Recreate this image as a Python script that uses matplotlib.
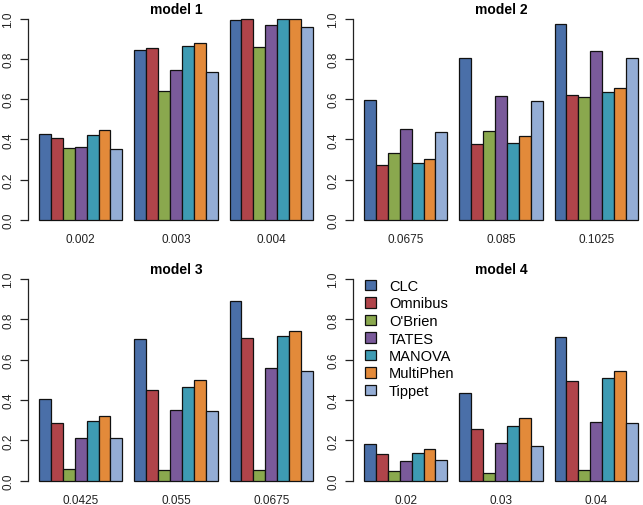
import matplotlib
matplotlib.use("Agg")
import matplotlib.pyplot as plt
from matplotlib.patches import Patch
import numpy as np

plt.rcParams['font.family'] = ['Liberation Sans', 'DejaVu Sans']

methods = ["CLC", "Omnibus", "O'Brien", "TATES", "MANOVA", "MultiPhen", "Tippet"]
colors = ["#4A6FA8", "#B0444A", "#8AA84E", "#7A5A9A", "#3E9BB3", "#E38A3A", "#94ADD5"]

titles = ["model 1", "model 2", "model 3", "model 4"]

m1_labels = ["0.002", "0.003", "0.004"]
m1_values = [
    [0.428, 0.408, 0.358, 0.362, 0.423, 0.449, 0.352],
    [0.846, 0.856, 0.640, 0.746, 0.866, 0.877, 0.733],
    [0.993, 1.000, 0.857, 0.970, 1.000, 1.000, 0.960],
]
m2_labels = ["0.0675", "0.085", "0.1025"]
m2_values = [
    [0.595, 0.275, 0.332, 0.451, 0.282, 0.305, 0.438],
    [0.803, 0.378, 0.444, 0.617, 0.383, 0.418, 0.589],
    [0.972, 0.622, 0.610, 0.839, 0.637, 0.657, 0.803],
]
m3_labels = ["0.0425", "0.055", "0.0675"]
m3_values = [
    [0.407, 0.284, 0.056, 0.213, 0.298, 0.319, 0.213],
    [0.704, 0.450, 0.051, 0.352, 0.466, 0.498, 0.347],
    [0.893, 0.707, 0.053, 0.560, 0.719, 0.742, 0.542],
]
m4_labels = ["0.02", "0.03", "0.04"]
m4_values = [
    [0.182, 0.131, 0.050, 0.096, 0.137, 0.159, 0.102],
    [0.435, 0.258, 0.040, 0.185, 0.271, 0.309, 0.174],
    [0.714, 0.493, 0.053, 0.289, 0.507, 0.545, 0.288],
]

W, H = 643, 506
fig = plt.figure(figsize=(W / 100, H / 100), dpi=100)

scale = 274 / 23.0  # px per bar unit
x_lo, x_hi = 0.08, 24.5

# (axis left px, y of zero px, y of one px)
layouts = [(28, 221, 19.5), (353, 221, 19.5), (28, 481.7, 280), (353, 481.7, 280)]
all_labels = [m1_labels, m2_labels, m3_labels, m4_labels]
all_values = [m1_values, m2_values, m3_values, m4_values]

axes = []
for k in range(4):
    left, y0, y1 = layouts[k]
    width_px = (x_hi - x_lo) * scale
    ax = fig.add_axes([left / W, (H - y0) / H, width_px / W, (y0 - y1) / H])
    ax.set_xlim(x_lo, x_hi)
    ax.set_ylim(0, 1)
    vals = all_values[k]
    centers = []
    for g in range(3):
        start = 1 + 8 * g
        for i in range(7):
            ax.bar(start + i, vals[g][i], width=1.0, align='edge', color=colors[i],
                   edgecolor='#111111', linewidth=0.9, clip_on=False)
        centers.append(start + 3.5)
    for s in ['top', 'right', 'bottom']:
        ax.spines[s].set_visible(False)
    ax.spines['left'].set_color('#222222')
    ax.spines['left'].set_linewidth(0.9)
    ax.set_yticks([0, 0.2, 0.4, 0.6, 0.8, 1.0])
    ax.set_yticklabels(["0.0", "0.2", "0.4", "0.6", "0.8", "1.0"], rotation=90,
                       va='center', fontsize=8.5, color='#222222')
    ax.tick_params(axis='y', length=6, width=0.9, color='#222222', pad=4)
    ax.set_xticks([])
    for c, lab in zip(centers, all_labels[k]):
        ax.text(c, -0.095, lab, ha='center', va='center', fontsize=8.5,
                color='#222222', transform=ax.get_xaxis_transform())
    ax.text(12.5, 1.0 + 9.5 / (y0 - y1), titles[k], ha='center', va='center',
            fontsize=10, fontweight='bold', transform=ax.get_xaxis_transform())
    axes.append(ax)

handles = [Patch(facecolor=c, edgecolor='#111111', linewidth=0.9) for c in colors]
fig.legend(handles, methods, loc='upper left',
           bbox_to_anchor=(365 / W, (H - 280) / H), frameon=False,
           fontsize=10.5, handlelength=0.75, handleheight=0.75,
           labelspacing=0.24, handletextpad=0.9, borderpad=0, borderaxespad=0)

fig.savefig("out.png", dpi=100)
